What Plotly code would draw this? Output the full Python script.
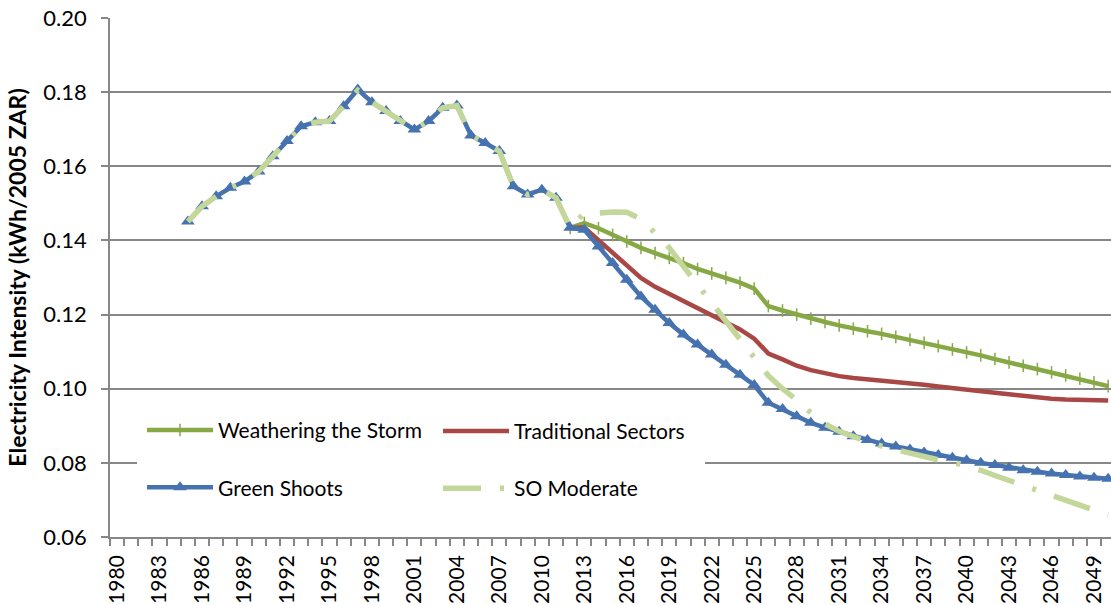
import plotly.graph_objects as go

# ---------------- data ----------------
years_all = list(range(1985, 2051))
years_proj = list(range(2012, 2051))

green_shoots = [
    0.1451, 0.1492, 0.1519, 0.1542, 0.1559, 0.1586, 0.1627, 0.1668, 0.1708, 0.1719,
    0.1722, 0.1762, 0.1807, 0.1773, 0.1749, 0.1722, 0.1699, 0.1722, 0.1758, 0.1764,
    0.1683, 0.1663, 0.1641, 0.1546, 0.1524, 0.1537, 0.1515, 0.1434,
    0.1429, 0.1384, 0.1339, 0.1294, 0.1249, 0.1213, 0.1177, 0.1146, 0.1119, 0.1092,
    0.1065, 0.1038, 0.1010, 0.0962, 0.0945, 0.0926, 0.0908, 0.0895, 0.0884, 0.0872,
    0.0862, 0.0852, 0.0844, 0.0836, 0.0828, 0.0821, 0.0814, 0.0807, 0.0800, 0.0794,
    0.0787, 0.0780, 0.0776, 0.0771, 0.0767, 0.0763, 0.0760, 0.0757,
]

so_moderate = [
    0.1451, 0.1492, 0.1519, 0.1542, 0.1559, 0.1586, 0.1627, 0.1668, 0.1708, 0.1719,
    0.1722, 0.1762, 0.1805, 0.1773, 0.1749, 0.1722, 0.1699, 0.1722, 0.1758, 0.1764,
    0.1683, 0.1663, 0.1641, 0.1546, 0.1524, 0.1537, 0.1515, 0.1434,
    0.1474, 0.1474, 0.1477, 0.1476, 0.1458, 0.1420, 0.1380, 0.1330, 0.1280, 0.1230,
    0.1180, 0.1130, 0.1080, 0.1035, 0.1000, 0.0970, 0.0935, 0.0905, 0.0885, 0.0870,
    0.0857, 0.0845, 0.0835, 0.0826, 0.0817, 0.0808, 0.0802, 0.0792, 0.0780, 0.0766,
    0.0753, 0.0740, 0.0727, 0.0713, 0.0700, 0.0686, 0.0672, 0.0659,
]

weathering = [
    0.1434, 0.1447, 0.1433, 0.1415, 0.1397, 0.1380, 0.1366, 0.1353, 0.1339, 0.1323,
    0.1311, 0.1299, 0.1286, 0.1270, 0.1223, 0.1211, 0.1200, 0.1189, 0.1180, 0.1171,
    0.1162, 0.1155, 0.1148, 0.1140, 0.1132, 0.1124, 0.1115, 0.1106, 0.1098, 0.1090,
    0.1080, 0.1071, 0.1062, 0.1053, 0.1044, 0.1036, 0.1027, 0.1017, 0.1007,
]

traditional = [
    0.1434, 0.1435, 0.1401, 0.1368, 0.1334, 0.1299, 0.1275, 0.1256, 0.1237, 0.1218,
    0.1200, 0.1182, 0.1160, 0.1135, 0.1095, 0.1079, 0.1062, 0.1050, 0.1041, 0.1034,
    0.1029, 0.1026, 0.1022, 0.1019, 0.1015, 0.1011, 0.1006, 0.1001, 0.0996, 0.0992,
    0.0989, 0.0985, 0.0980, 0.0976, 0.0973, 0.0971, 0.0970, 0.0969, 0.0968,
]

tick_years = list(range(1980, 2050, 3))
tick_labels = [str(y) for y in tick_years]
y_ticks = [0.06, 0.08, 0.10, 0.12, 0.14, 0.16, 0.18, 0.20]
y_labels = ["0.06", "0.08", "0.10", "0.12", "0.14", "0.16", "0.18", "0.20"]

# ---------------- styling ----------------
FONT = "Lato, 'Open Sans', sans-serif"
C_WEATHER = "#86a845"
C_TRAD = "#a94744"
C_GREEN = "#4673b0"
C_SO = "#c3d79b"
GRID = "#878787"

fig = go.Figure()

fig.add_trace(go.Scatter(
    x=years_proj, y=weathering, name="Weathering the Storm",
    mode="lines+markers",
    line=dict(color=C_WEATHER, width=4.5),
    marker=dict(symbol="line-ns-open", size=9, line=dict(color=C_WEATHER, width=1.5)),
    legend="legend", legendgroup="g1",
))
fig.add_trace(go.Scatter(
    x=years_proj, y=traditional, name="Traditional Sectors",
    mode="lines",
    line=dict(color=C_TRAD, width=4.5),
    legend="legend2", legendgroup="g3",
))
fig.add_trace(go.Scatter(
    x=years_all, y=green_shoots, name="Green Shoots",
    mode="lines+markers",
    line=dict(color=C_GREEN, width=4.5),
    marker=dict(symbol="triangle-up", size=12, color=C_GREEN),
    legend="legend", legendgroup="g2",
))
fig.add_trace(go.Scatter(
    x=years_all, y=so_moderate, name="SO Moderate",
    mode="lines",
    line=dict(color=C_SO, width=5.5, dash="38px,19px,4px,19px"),
    legend="legend2", legendgroup="g4",
))

legend_common = dict(
    orientation="v", traceorder="grouped", tracegroupgap=27,
    bgcolor="white", bordercolor="white", itemwidth=66,
    font=dict(family=FONT, size=21, color="black"),
    xanchor="left", yanchor="top",
)

fig.update_layout(
    width=1111, height=605,
    margin=dict(l=110, r=0, t=18, b=68, autoexpand=False),
    paper_bgcolor="white", plot_bgcolor="white",
    font=dict(family=FONT, color="black"),
    showlegend=True,
    legend=dict(x=0.027, y=0.2546, borderwidth=5, **legend_common),
    legend2=dict(x=0.3127, y=0.272, borderwidth=15, **legend_common),
    xaxis=dict(
        range=[1979.5, 2050.2],
        tickmode="array", tickvals=tick_years, ticktext=tick_labels,
        tickangle=-90, ticks="", ticklabelstandoff=8,
        ticklabeloverflow="allow",
        tickfont=dict(family=FONT, size=21, color="black"),
        showgrid=False, zeroline=False,
        showline=True, linecolor=GRID, linewidth=1.5,
        minor=dict(ticks="outside", tick0=1979.5, dtick=1, ticklen=7,
                   tickcolor=GRID, tickwidth=1.5, showgrid=False),
    ),
    yaxis=dict(
        range=[0.06, 0.20001],
        tickmode="array", tickvals=y_ticks, ticktext=y_labels,
        ticks="outside", ticklen=7, tickcolor=GRID, tickwidth=1.5,
        ticklabelstandoff=10, ticklabeloverflow="allow",
        tickfont=dict(family=FONT, size=22, color="black"),
        showgrid=True, gridcolor=GRID, gridwidth=1.5,
        zeroline=False,
        showline=True, linecolor=GRID, linewidth=1.5,
        title=dict(text="<b>Electricity Intensity (kWh/2005 ZAR)</b>",
                   font=dict(family=FONT, size=23, color="black"),
                   standoff=10),
        automargin=False,
    ),
)

# remove the default 8 px page margin so the figure fills the window exactly
fig.write_html("out.html", config={"displayModeBar": False},
               post_script="document.body.style.margin='0';")
